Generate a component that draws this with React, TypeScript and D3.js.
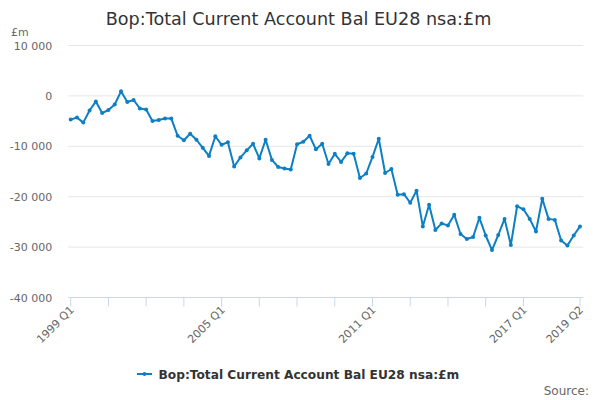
import * as d3 from 'd3';
import React, { useEffect, useRef } from 'react';

// quarterly periods 1999 Q1 .. 2019 Q2
const startYear = 1999;
const periods: string[] = [];
for (let i = 0; i < 82; i++) {
  periods.push(`${startYear + Math.floor(i / 4)} Q${(i % 4) + 1}`);
}

const balance = [
  -4700, -4300, -5300, -2900, -1100, -3400, -2800, -1700, 900, -1200,
  -800, -2500, -2700, -5000, -4800, -4500, -4500, -7900, -8800, -7500,
  -8700, -10300, -11900, -8000, -9700, -9200, -14000, -12200, -10800, -9500,
  -12400, -8700, -12700, -14100, -14400, -14600, -9600, -9100, -7900, -10600,
  -9500, -13500, -11500, -13100, -11400, -11500, -16300, -15400, -12100, -8500,
  -15300, -14500, -19600, -19500, -21200, -18800, -25900, -21600, -26600, -25300,
  -25700, -23600, -27400, -28400, -28000, -24200, -27700, -30600, -27600, -24400,
  -29600, -21900, -22500, -24400, -26900, -20400, -24400, -24600, -28700, -29700,
  -27700, -25900,
];

const yTicks = [10000, 0, -10000, -20000, -30000, -40000];
const tickIndexes = [0, 6, 12, 18, 24, 30, 36, 42, 48, 54, 60, 66, 72, 81];
const labelIndexes = [0, 24, 48, 72, 81];

const seriesName = 'Bop:Total Current Account Bal EU28 nsa:£m';
const lineColor = '#0d7fc4';
const font = '"DejaVu Sans", sans-serif';

const width = 600;
const height = 400;
const margin = { top: 45.5, right: 16.7, bottom: 102.5, left: 68.3 };

export default function App() {
  const svgRef = useRef<SVGSVGElement | null>(null);

  useEffect(() => {
    if (!svgRef.current) return;
    const svg = d3.select(svgRef.current);
    svg.selectAll('*').remove();

    const innerWidth = width - margin.left - margin.right;
    const innerHeight = height - margin.top - margin.bottom;

    const x = d3.scaleLinear().domain([0, periods.length - 1]).range([2.4, innerWidth - 3.3]);
    const y = d3.scaleLinear().domain([-40000, 10000]).range([innerHeight, 0]);
    const fmt = (v: number) => d3.format(',')(v).replace(/,/g, ' ').replace('−', '-');

    svg.append('text')
      .attr('x', 298.5)
      .attr('y', 25)
      .attr('text-anchor', 'middle')
      .style('font-family', font)
      .style('font-size', '17.6px')
      .style('fill', '#333333')
      .text(seriesName);

    svg.append('text')
      .attr('x', 11)
      .attr('y', 36)
      .style('font-family', font)
      .style('font-size', '11px')
      .style('fill', '#666666')
      .text('£m');

    const g = svg.append('g').attr('transform', `translate(${margin.left},${margin.top})`);

    // grid + y labels
    g.selectAll('.grid')
      .data(yTicks.filter((t) => t !== -40000))
      .enter()
      .append('line')
      .attr('class', 'grid')
      .attr('x1', 0)
      .attr('x2', innerWidth)
      .attr('y1', (d) => y(d))
      .attr('y2', (d) => y(d))
      .attr('stroke', '#e6e6e6')
      .attr('stroke-width', 1);

    g.selectAll('.ylab')
      .data(yTicks)
      .enter()
      .append('text')
      .attr('class', 'ylab')
      .attr('x', -16)
      .attr('y', (d) => y(d) + 4)
      .attr('text-anchor', 'end')
      .style('font-family', font)
      .style('font-size', '11px')
      .style('fill', '#666666')
      .text((d) => fmt(d));

    // x axis
    g.append('line')
      .attr('x1', 0)
      .attr('x2', innerWidth)
      .attr('y1', innerHeight)
      .attr('y2', innerHeight)
      .attr('stroke', '#ccd6eb');

    g.selectAll('.xtick')
      .data(tickIndexes)
      .enter()
      .append('line')
      .attr('class', 'xtick')
      .attr('x1', (d) => x(d))
      .attr('x2', (d) => x(d))
      .attr('y1', innerHeight)
      .attr('y2', innerHeight + 9)
      .attr('stroke', '#ccd6eb');

    g.selectAll('.xlab')
      .data(labelIndexes)
      .enter()
      .append('text')
      .attr('class', 'xlab')
      .attr('text-anchor', 'end')
      .attr('transform', (d) => `translate(${x(d) + 4},${innerHeight + 13}) rotate(-45)`)
      .style('font-family', font)
      .style('font-size', '11px')
      .style('fill', '#666666')
      .text((d) => periods[d]);

    const line = d3
      .line<number>()
      .x((_, i) => x(i))
      .y((d) => y(d));

    g.append('path')
      .datum(balance)
      .attr('fill', 'none')
      .attr('stroke', lineColor)
      .attr('stroke-width', 2)
      .attr('stroke-linejoin', 'round')
      .attr('d', line);

    g.selectAll('.pt')
      .data(balance)
      .enter()
      .append('circle')
      .attr('class', 'pt')
      .attr('cx', (_, i) => x(i))
      .attr('cy', (d) => y(d))
      .attr('r', 2)
      .attr('fill', lineColor);

    // legend
    const lg = svg.append('g').attr('transform', 'translate(137,374)');
    lg.append('line')
      .attr('x1', 0)
      .attr('x2', 15)
      .attr('y1', 0)
      .attr('y2', 0)
      .attr('stroke', lineColor)
      .attr('stroke-width', 2);
    lg.append('circle').attr('cx', 7.5).attr('cy', 0).attr('r', 2).attr('fill', lineColor);
    lg.append('text')
      .attr('x', 21.5)
      .attr('y', 4.5)
      .style('font-family', font)
      .style('font-size', '12.2px')
      .style('font-weight', 'bold')
      .style('fill', '#333333')
      .text(seriesName);

    svg.append('text')
      .attr('x', 589)
      .attr('y', 395)
      .attr('text-anchor', 'end')
      .style('font-family', font)
      .style('font-size', '12px')
      .style('fill', '#666666')
      .text('Source:');
  }, []);

  return (
    <svg
      ref={svgRef}
      width={width}
      height={height}
      style={{ position: 'absolute', left: 0, top: 0, background: '#ffffff' }}
    />
  );
}
